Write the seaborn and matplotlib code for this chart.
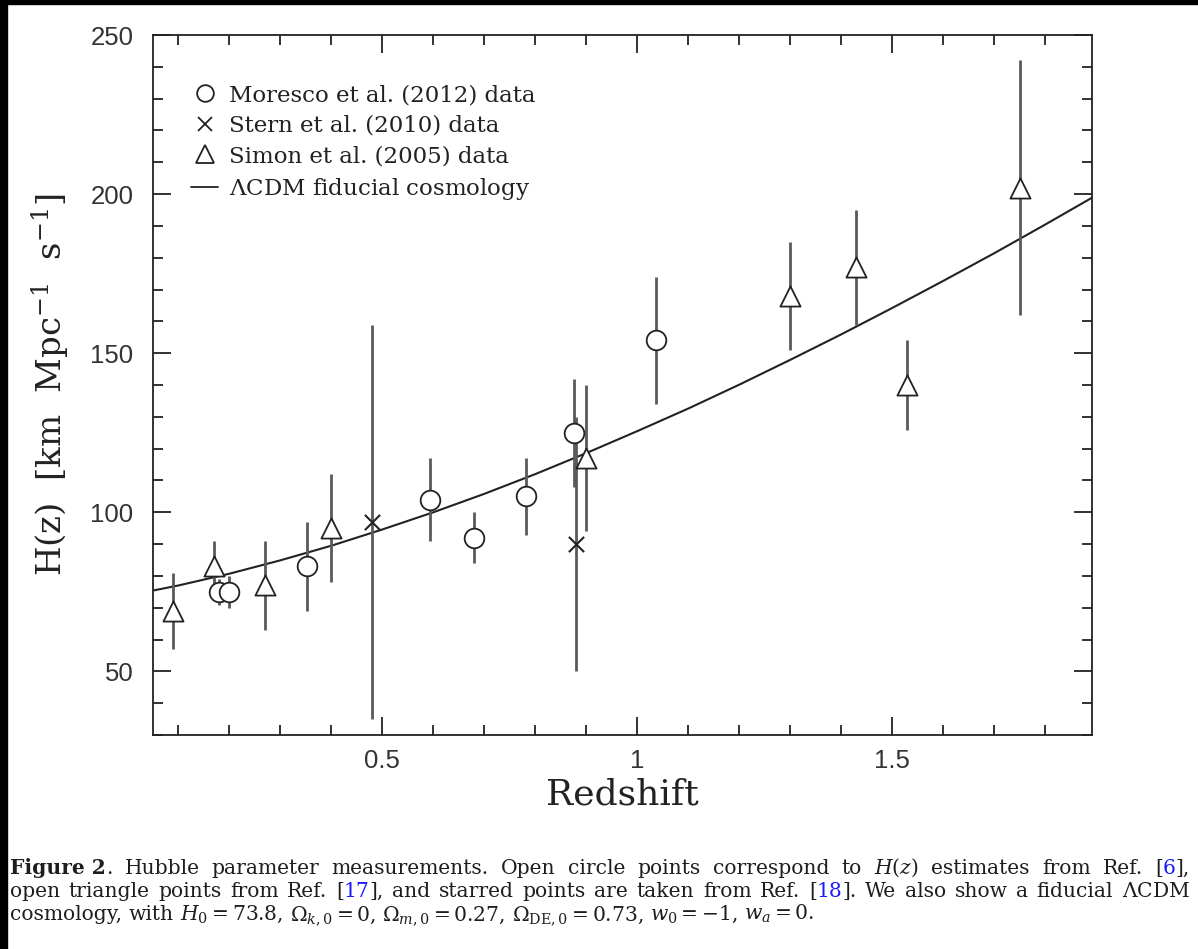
"""
Hubble parameter measurements H(z) vs redshift, with a fiducial LCDM curve.
"""

import matplotlib
matplotlib.use('Agg')
import matplotlib.pyplot as plt
from matplotlib.lines import Line2D
from matplotlib.patches import Rectangle
from matplotlib.offsetbox import TextArea, HPacker, VPacker, AnchoredOffsetbox
from matplotlib.ticker import MultipleLocator, FixedLocator
import seaborn as sns
import pandas as pd

# Moresco et al. (2012)
moresco_z = [0.179, 0.199, 0.352, 0.593, 0.68, 0.781, 0.875, 1.037]
moresco_h = [75, 75, 83, 104, 92, 105, 125, 154]
moresco_err = [4, 5, 14, 13, 8, 12, 17, 20]

# Stern et al. (2010)
stern_z = [0.48, 0.88]
stern_h = [97, 90]
stern_err = [62, 40]

# Simon et al. (2005)
simon_z = [0.09, 0.17, 0.27, 0.4, 0.9, 1.3, 1.43, 1.53, 1.75]
simon_h = [69, 83, 77, 95, 117, 168, 177, 140, 202]
simon_err = [12, 8, 14, 17, 23, 17, 18, 14, 40]

# LCDM fiducial curve
lcdm_z = [0.05, 0.1, 0.2, 0.3, 0.4, 0.5, 0.6, 0.7, 0.8, 0.9, 1.0,
          1.1, 1.2, 1.3, 1.4, 1.5, 1.6, 1.7, 1.8, 1.9]
lcdm_h = [75.4, 77.0, 80.7, 84.9, 89.5, 94.6, 100.0, 105.8, 112.0, 118.6, 125.5,
          132.6, 140.1, 147.9, 155.9, 164.2, 172.7, 181.4, 190.4, 199.6]

legend_labels = ['Moresco et al. (2012) data', 'Stern et al. (2010) data',
                 'Simon et al. (2005) data', r'$\Lambda$CDM fiducial cosmology']

x_ticks = [0.5, 1, 1.5]
x_ticklabels = ['0.5', '1', '1.5']
y_ticks = [50, 100, 150, 200, 250]

# caption lines: each word is a string or a list of (text, colour key, bold)
caption_lines = [
    [[('Figure 2', 'k', True), ('.', 'k', False)], 'Hubble', 'parameter', 'measurements.',
     'Open', 'circle', 'points', 'correspond', 'to', '$H(z)$', 'estimates', 'from',
     'Ref.', [('[', 'k', False), ('6', 'b', False), ('],', 'k', False)]],
    ['open', 'triangle', 'points', 'from', 'Ref.',
     [('[', 'k', False), ('17', 'b', False), ('],', 'k', False)],
     'and', 'starred', 'points', 'are', 'taken', 'from', 'Ref.',
     [('[', 'k', False), ('18', 'b', False), (('].'), 'k', False)],
     'We', 'also', 'show', 'a', 'fiducial', r'$\Lambda$CDM'],
    ['cosmology,', 'with', '$H_0 = 73.8$,', r'$\Omega_{k,0} = 0$,',
     r'$\Omega_{m,0} = 0.27$,', r'$\Omega_{\rm DE,0} = 0.73$,',
     '$w_0 = -1$,', '$w_a = 0$.'],
]

sns.set_style('white')
plt.rcParams['mathtext.fontset'] = 'dejavuserif'
plt.rcParams['axes.linewidth'] = 1.3

fig = plt.figure(figsize=(11.98, 9.49), dpi=100)
ax = fig.add_axes([0.1277, 0.2255, 0.7838, 0.7376])

INK = '#222222'
BAR = '#5a5a5a'

# curve
curve = pd.DataFrame({'z': lcdm_z, 'H': lcdm_h})
sns.lineplot(data=curve, x='z', y='H', ax=ax, color=INK, lw=1.5, zorder=2)

# error bars
for z, h, e in [(moresco_z, moresco_h, moresco_err),
                (stern_z, stern_h, stern_err),
                (simon_z, simon_h, simon_err)]:
    ax.errorbar(z, h, yerr=e, fmt='none', ecolor=BAR, elinewidth=2,
                capsize=0, zorder=3)

# markers
sns.scatterplot(x=moresco_z, y=moresco_h, ax=ax, marker='o', s=200,
                facecolor='white', edgecolor=INK, linewidth=1.3, zorder=4)
sns.scatterplot(x=stern_z, y=stern_h, ax=ax, marker='x', s=120,
                color=INK, linewidth=1.5, zorder=4)
sns.scatterplot(x=simon_z, y=simon_h, ax=ax, marker='^', s=210,
                facecolor='white', edgecolor=INK, linewidth=1.3, zorder=4)

ax.set_xlim(0.05, 1.892)
ax.set_ylim(30, 250)
ax.xaxis.set_major_locator(FixedLocator(x_ticks))
ax.set_xticklabels(x_ticklabels)
ax.xaxis.set_minor_locator(MultipleLocator(0.1))
ax.yaxis.set_major_locator(FixedLocator(y_ticks))
ax.yaxis.set_minor_locator(MultipleLocator(10))
ax.tick_params(which='both', direction='in', top=True, right=True,
               bottom=True, left=True, color=INK, width=1.3)
ax.tick_params(which='major', length=13)
ax.tick_params(which='minor', length=7)
ax.tick_params(axis='y', which='major', pad=14)
ax.tick_params(axis='x', which='major', pad=10)
for lab in ax.get_xticklabels() + ax.get_yticklabels():
    lab.set_fontfamily('Liberation Sans')
    lab.set_fontsize(18.5)
    lab.set_color('#333333')
for sp in ax.spines.values():
    sp.set_color(INK)

ax.set_xlabel('Redshift', fontfamily='DejaVu Serif', fontsize=26,
              color=INK, labelpad=3)
ax.set_ylabel(r'H(z)  [km  Mpc$^{-1}$  s$^{-1}$]', fontfamily='DejaVu Serif',
              fontsize=24.5, color=INK, labelpad=13)

# legend
handles = [
    Line2D([], [], ls='none', marker='o', ms=12, mfc='white', mec=INK, mew=1.3),
    Line2D([], [], ls='none', marker='x', ms=10, color=INK, mew=1.3),
    Line2D([], [], ls='none', marker='^', ms=13, mfc='white', mec=INK, mew=1.3),
    Line2D([], [], color=INK, lw=1.3),
]
leg = ax.legend(handles, legend_labels, loc='upper left',
                bbox_to_anchor=(0.041, 0.930), frameon=False,
                prop={'family': 'DejaVu Serif', 'size': 16.5},
                handlelength=1.15, handletextpad=0.5, labelspacing=0.38,
                borderpad=0, borderaxespad=0)
for t in leg.get_texts():
    t.set_color(INK)

# caption, justified to the reference text width
CAP_FS = 14.6
CAP_COLORS = {'k': '#1e1e1e', 'b': '#1a1aff'}
CAP_WIDTH = 1180  # pixels
renderer = fig.canvas.get_renderer()
px_per_pt = fig.dpi / 72.0


def word_box(word):
    parts = [(word, 'k', False)] if isinstance(word, str) else word
    areas = [TextArea(s, textprops=dict(color=CAP_COLORS[c], fontfamily='DejaVu Serif',
                                        fontweight='bold' if b else 'normal',
                                        fontsize=CAP_FS))
             for s, c, b in parts]
    box = HPacker(children=areas, align='baseline', pad=0, sep=0)
    box.set_figure(fig)
    return box


def box_width(box):
    return box.get_bbox(renderer).width


space_px = box_width(word_box('a a')) - box_width(word_box('aa'))

rows = []
for i, words in enumerate(caption_lines):
    boxes = [word_box(w) for w in words]
    if i < len(caption_lines) - 1:
        total = sum(box_width(b) for b in boxes)
        gap_px = max((CAP_WIDTH - total) / (len(boxes) - 1), 0.6 * space_px)
    else:
        gap_px = space_px
    rows.append(HPacker(children=boxes, align='baseline', pad=0, sep=gap_px / px_per_pt))

caption = VPacker(children=rows, align='left', pad=0, sep=1.6)
anchored = AnchoredOffsetbox(loc='upper left', child=caption, pad=0,
                             borderpad=0, frameon=False,
                             bbox_to_anchor=(10 / 1198, 1 - 857 / 949),
                             bbox_transform=fig.transFigure)
fig.add_artist(anchored)

# dark border strips from the screenshot
fig.patches.append(Rectangle((0, 1 - 4 / 949), 1, 4 / 949, transform=fig.transFigure,
                             color='black', zorder=10))
fig.patches.append(Rectangle((0, 0), 7 / 1198, 1, transform=fig.transFigure,
                             color='black', zorder=10))

fig.savefig('out.png', dpi=100)
